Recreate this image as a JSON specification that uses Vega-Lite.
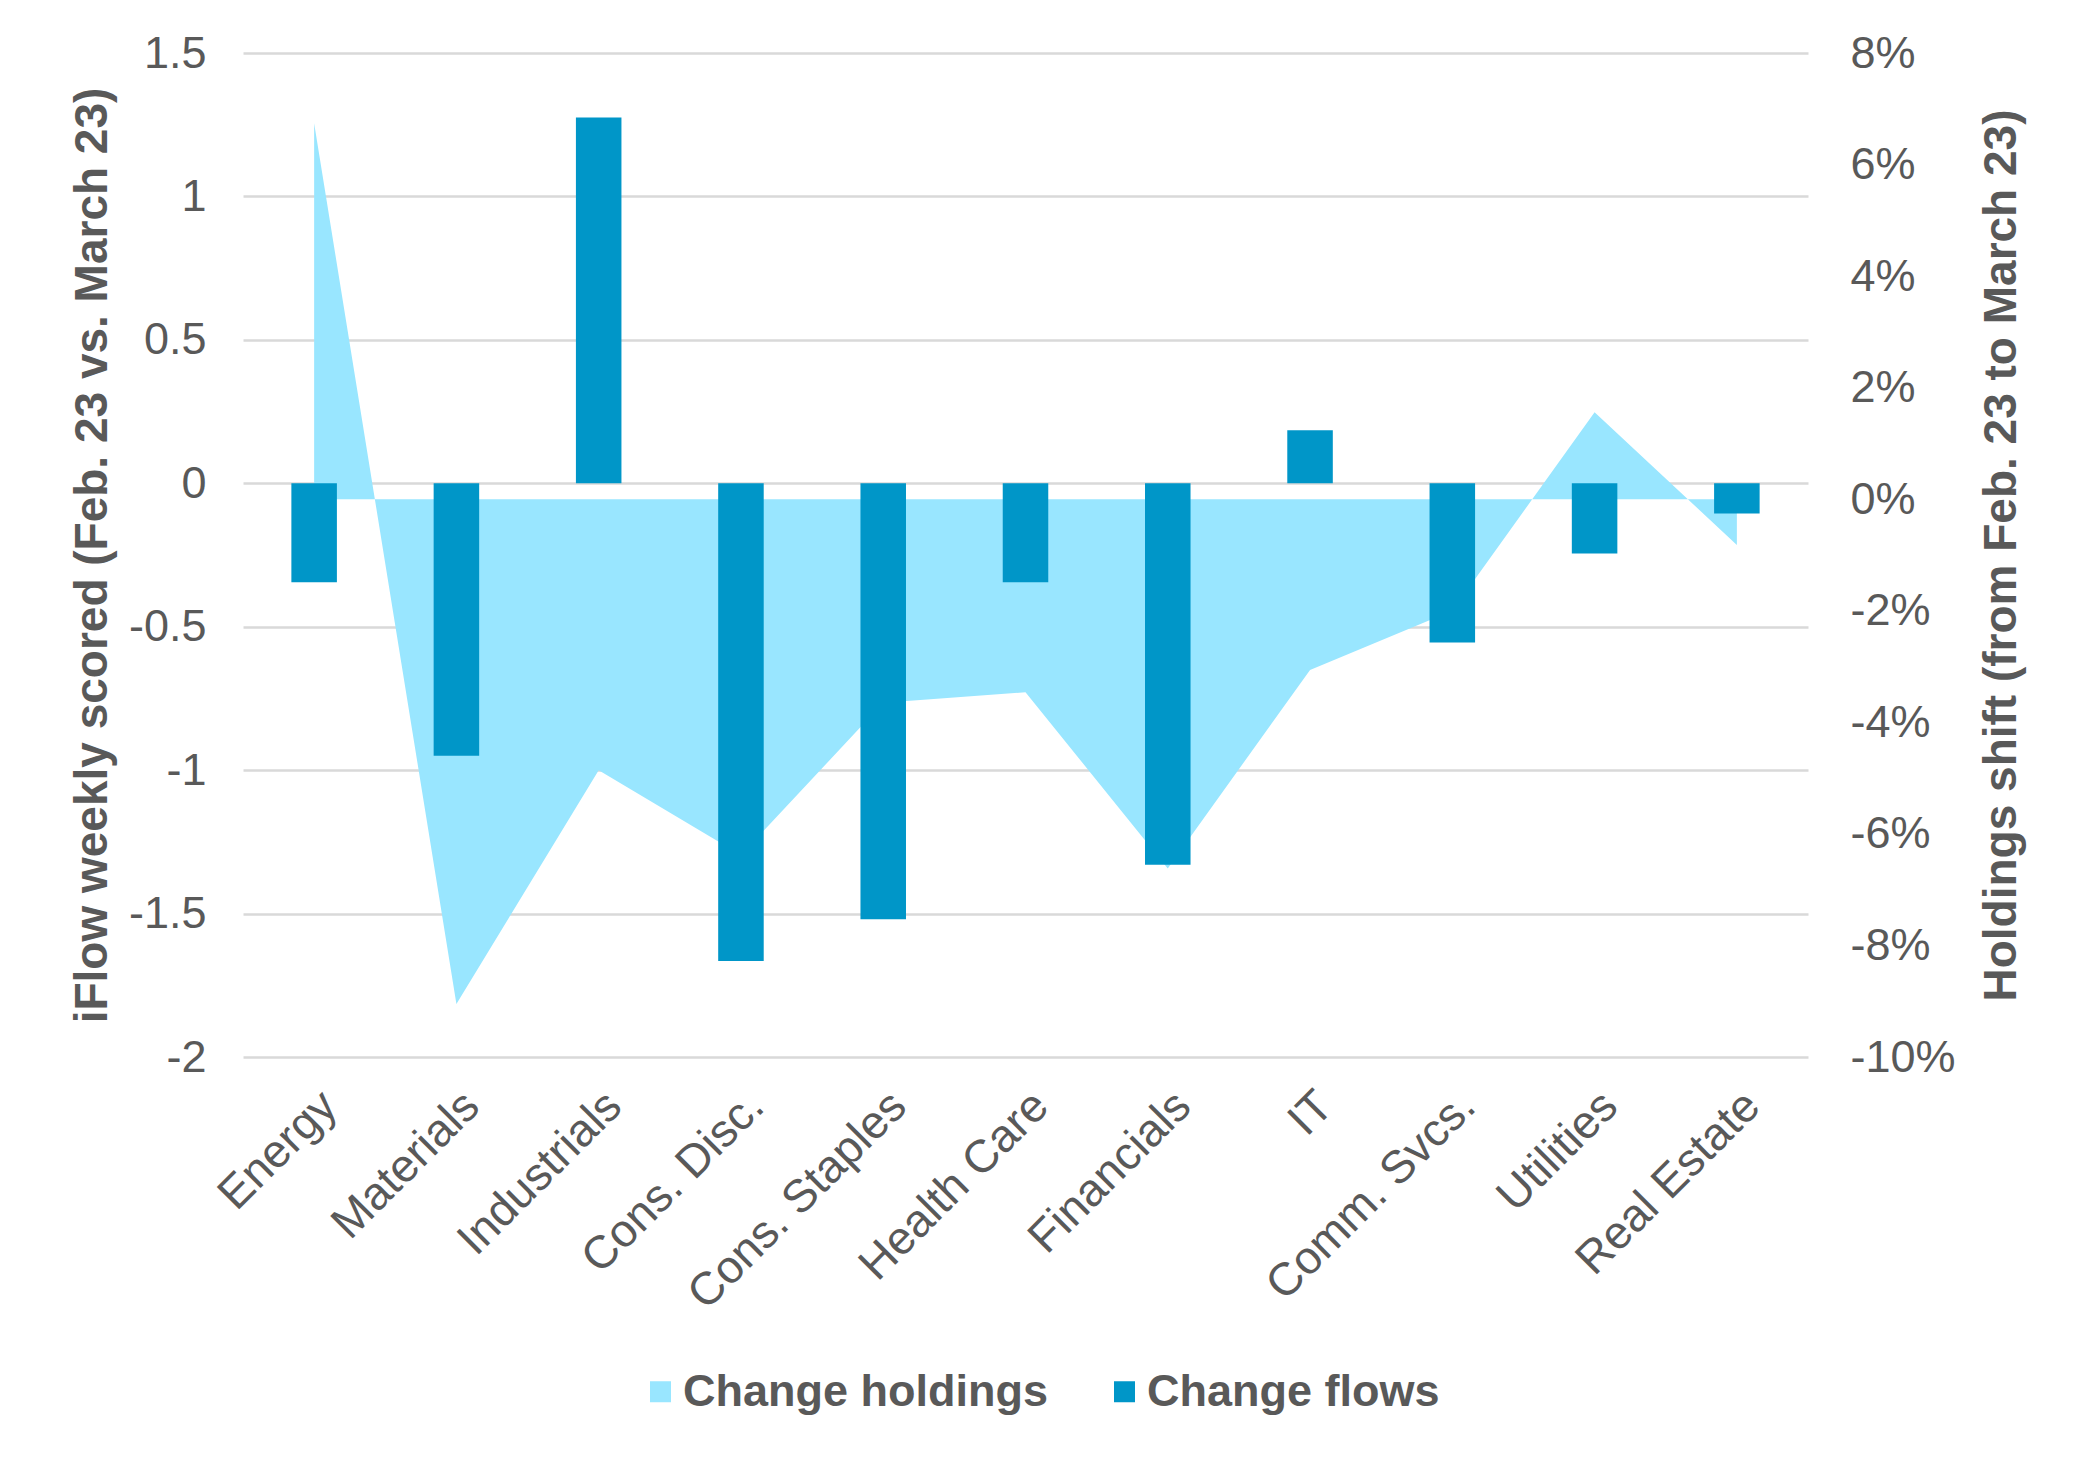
{
  "$schema": "https://vega.github.io/schema/vega-lite/v6.json",
  "autosize": {"type": "none"},
  "width": 1565,
  "height": 1004,
  "padding": {"left": 243, "top": 53, "right": 272, "bottom": 404},
  "background": "white",
  "data": {
    "values": [
      {"sector": "Energy", "flows": -0.345, "holdings": 0.0674},
      {"sector": "Materials", "flows": -0.95, "holdings": -0.0905},
      {"sector": "Industrials", "flows": 1.275, "holdings": -0.0486},
      {"sector": "Cons. Disc.", "flows": -1.665, "holdings": -0.0638},
      {"sector": "Cons. Staples", "flows": -1.52, "holdings": -0.0365},
      {"sector": "Health Care", "flows": -0.345, "holdings": -0.0346},
      {"sector": "Financials", "flows": -1.33, "holdings": -0.0662},
      {"sector": "IT", "flows": 0.185, "holdings": -0.0306},
      {"sector": "Comm. Svcs.", "flows": -0.555, "holdings": -0.020},
      {"sector": "Utilities", "flows": -0.245, "holdings": 0.0156},
      {"sector": "Real Estate", "flows": -0.105, "holdings": -0.0082}
    ]
  },
  "encoding": {
    "x": {
      "field": "sector",
      "type": "nominal",
      "sort": null,
      "title": null,
      "scale": {"paddingInner": 0.68, "paddingOuter": 0.34},
      "axis": {
        "labelAngle": -45,
        "labelFontSize": 46,
        "labelPadding": 26,
        "labelLimit": 0,
        "ticks": false,
        "domain": false,
        "grid": false
      }
    }
  },
  "layer": [
    {
      "mark": {"type": "area", "interpolate": "linear"},
      "encoding": {
        "y": {
          "field": "holdings",
          "type": "quantitative",
          "scale": {"domain": [-0.1, 0.08], "nice": false, "zero": false},
          "axis": {
            "orient": "right",
            "title": "Holdings shift (from Feb. 23 to March 23)",
            "titleAngle": 270,
            "values": [-0.1, -0.08, -0.06, -0.04, -0.02, 0, 0.02, 0.04, 0.06, 0.08],
            "labelExpr": "datum.value < 0 ? '-' + format(-datum.value, '.0%') : format(datum.value, '.0%')",
            "grid": false,
            "ticks": false,
            "domain": false,
            "labelPadding": 42,
            "titlePadding": 70
          }
        },
        "color": {"datum": "Change holdings"}
      }
    },
    {
      "mark": {"type": "bar"},
      "encoding": {
        "y": {
          "field": "flows",
          "type": "quantitative",
          "scale": {"domain": [-2, 1.5], "nice": false},
          "axis": {
            "orient": "left",
            "title": "iFlow weekly scored (Feb. 23 vs. March 23)",
            "values": [-2, -1.5, -1, -0.5, 0, 0.5, 1, 1.5],
            "labelExpr": "datum.value < 0 ? '-' + format(-datum.value, '~g') : format(datum.value, '~g')",
            "grid": true,
            "gridColor": "#D9D9D9",
            "gridWidth": 2.5,
            "ticks": false,
            "domain": false,
            "labelPadding": 37,
            "titlePadding": 12
          }
        },
        "color": {"datum": "Change flows"}
      }
    }
  ],
  "resolve": {"scale": {"y": "independent"}},
  "config": {
    "view": {"stroke": null},
    "font": "Liberation Sans",
    "axis": {
      "labelFont": "Liberation Sans",
      "labelFontSize": 45,
      "labelColor": "#595959",
      "titleFont": "Liberation Sans",
      "titleFontSize": 46,
      "titleFontWeight": "bold",
      "titleColor": "#595959"
    },
    "range": {"category": ["#99E6FF", "#0096C8"]},
    "legend": {
      "orient": "none",
      "legendX": 395,
      "legendY": 1316,
      "direction": "horizontal",
      "title": null,
      "symbolType": "square",
      "symbolSize": 441,
      "symbolStrokeWidth": 0,
      "labelFont": "Liberation Sans",
      "labelFontSize": 45,
      "labelFontWeight": "bold",
      "labelColor": "#595959",
      "labelLimit": 0,
      "labelOffset": 0,
      "columnPadding": 54
    }
  }
}
